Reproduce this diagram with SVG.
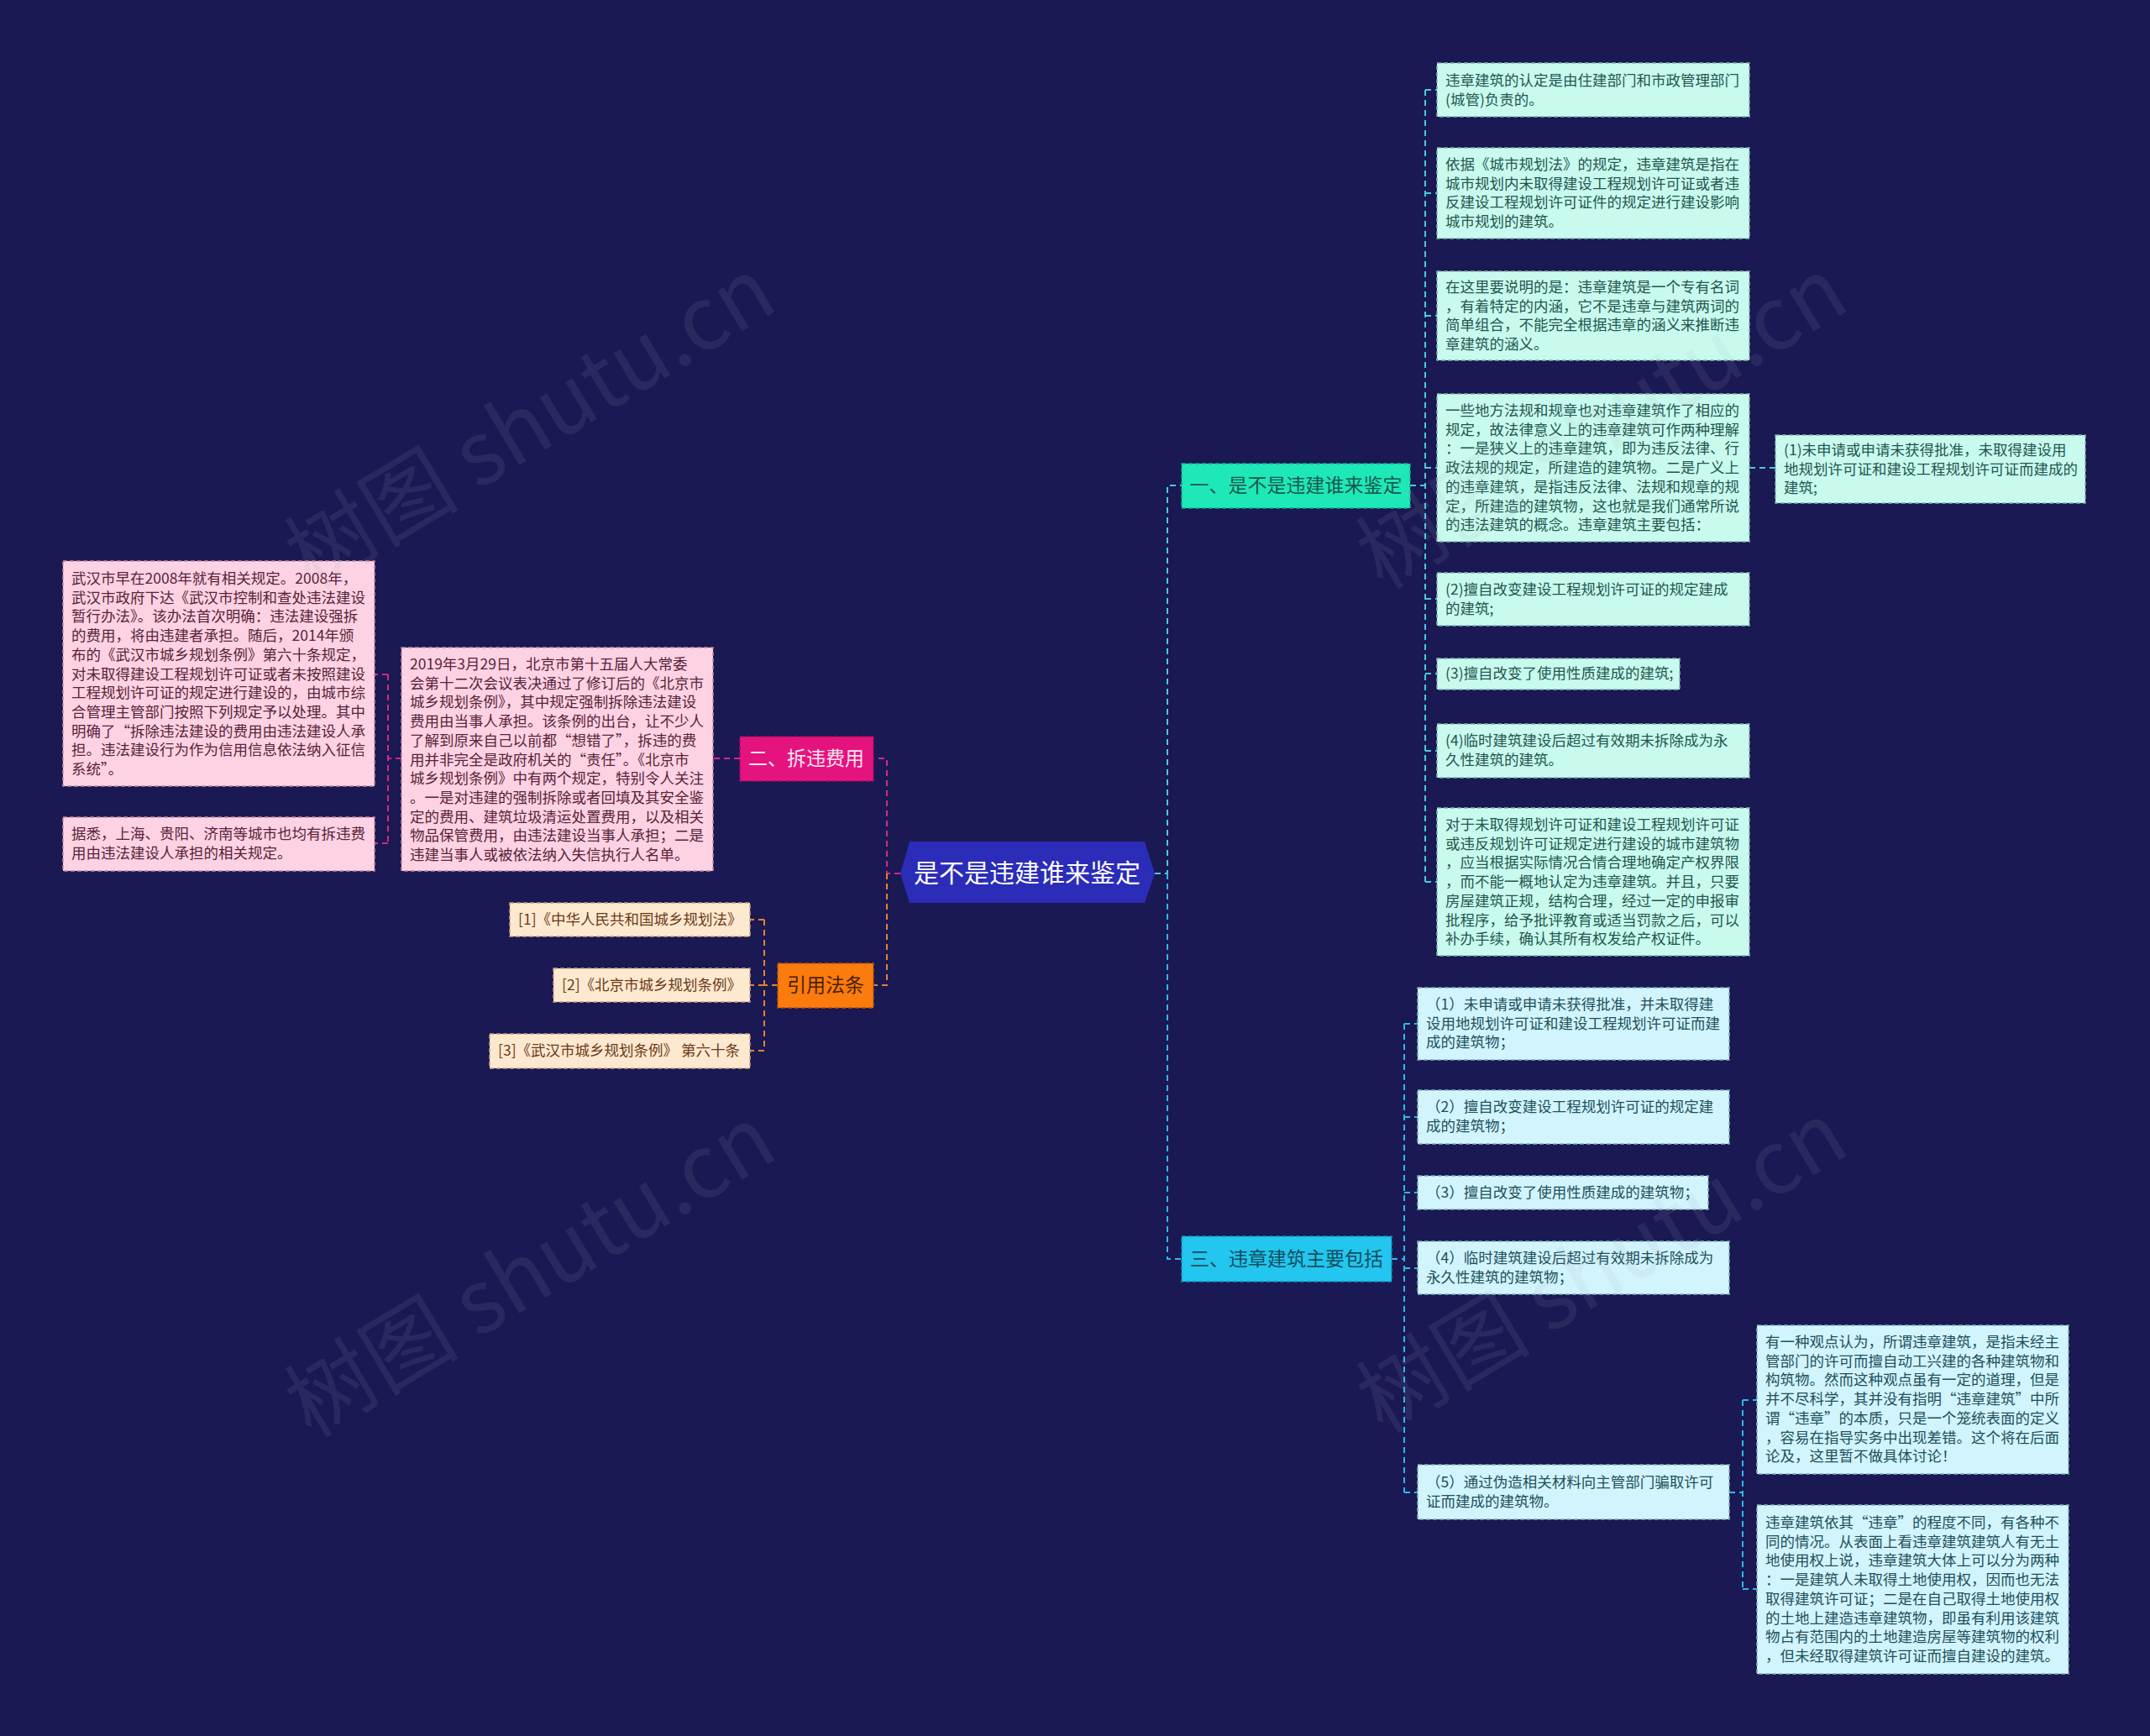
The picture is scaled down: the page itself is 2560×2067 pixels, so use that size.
<svg xmlns="http://www.w3.org/2000/svg" width="2560" height="2067" viewBox="0 0 2560 2067">
<style>
text{font-family:"Noto Sans CJK SC","Noto Sans",sans-serif;}
.t{font-size:17.5px;}
.mint rect{fill:#c8fbee;stroke:#7fb3a8;stroke-width:1.5;stroke-dasharray:5 3;}
.mint text{fill:#24564e;}
.cyan rect{fill:#d2f4fc;stroke:#7fb0bd;stroke-width:1.5;stroke-dasharray:5 3;}
.cyan text{fill:#21505c;}
.pink rect{fill:#fdd2e3;stroke:#c08aa0;stroke-width:1.5;stroke-dasharray:5 3;}
.pink text{fill:#5a2338;}
.peach rect{fill:#fde8d0;stroke:#c7a27d;stroke-width:1.5;stroke-dasharray:5 3;}
.peach text{fill:#6b3b17;}
.br{font-size:23px;text-anchor:middle;}
.c1{stroke:#45cdd8;}
.c3{stroke:#2fb7e8;}
.cp{stroke:#d8287f;}
.co{stroke:#e8822a;}
#connectors path{fill:none;stroke-width:2;stroke-dasharray:7 5;}
.wm{font-size:104px;fill:#a8adbd;opacity:0.11;}
</style>
<rect width="2560" height="2067" fill="#1a1953"/>

<g id="connectors">
  <path class="c1" d="M1375 1040H1390V578H1407"/>
  <path class="c3" d="M1390 1040V1499H1407"/>
  <path class="cp" d="M1072 1040H1056V903H1040"/>
  <path class="co" d="M1056 1040V1173H1040"/>
  <path class="c1" d="M1679 578H1697M1697 107V1050M1697 107H1711M1697 230H1711M1697 376H1711M1697 557H1711M1697 713H1711M1697 802H1711M1697 894H1711M1697 1050H1711M2083 557H2114"/>
  <path class="c3" d="M1657 1499H1672M1672 1219V1777M1672 1219H1688M1672 1330H1688M1672 1420H1688M1672 1510H1688M1672 1777H1688M2059 1777H2075M2075 1667V1892M2075 1667H2092M2075 1892H2092"/>
  <path class="cp" d="M881 903H849M478 903H462M462 803V1004M462 803H446M462 1004H446"/>
  <path class="co" d="M926 1173H910M910 1095V1251M910 1095H893M910 1173H893M910 1251H893"/>
</g>

<g id="root">
  <polygon points="1072,1040 1083,1002 1363,1002 1375,1040 1363,1075 1083,1075" fill="#2b2cb8"/>
  <text x="1223" y="1050" font-size="30" fill="#ffffff" text-anchor="middle">是不是违建谁来鉴定</text>
</g>

<g id="branch1">
  <rect x="1407" y="552" width="272" height="53" fill="#1fe8b8" stroke="#15a888" stroke-width="1.5" stroke-dasharray="5 3"/>
  <text class="br" x="1543" y="586" fill="#17584a">一、是不是违建谁来鉴定</text>
</g>
<g id="branch3">
  <rect x="1407" y="1472" width="250" height="54" fill="#22c6ee" stroke="#1590b8" stroke-width="1.5" stroke-dasharray="5 3"/>
  <text class="br" x="1532" y="1507" fill="#134e5e">三、违章建筑主要包括</text>
</g>
<g id="branch2">
  <rect x="881" y="877" width="159" height="53" fill="#e5137e" stroke="#a80c5c" stroke-width="1.5" stroke-dasharray="5 3"/>
  <text class="br" x="960" y="911" fill="#fde6f0">二、拆违费用</text>
</g>
<g id="branch4">
  <rect x="926" y="1147" width="114" height="53" fill="#fb7b0c" stroke="#b85508" stroke-width="1.5" stroke-dasharray="5 3"/>
  <text class="br" x="983" y="1181" fill="#4a1f00">引用法条</text>
</g>

<g id="b1-1" class="mint">
  <rect x="1711" y="75" width="372" height="64"/>
  <text class="t" x="1721" y="102">违章建筑的认定是由住建部门和市政管理部门<tspan x="1721" dy="22.7">(城管)负责的。</tspan></text>
</g>
<g id="b1-2" class="mint">
  <rect x="1711" y="176" width="372" height="108"/>
  <text class="t" x="1721" y="202">依据《城市规划法》的规定，违章建筑是指在<tspan x="1721" dy="22.7">城市规划内未取得建设工程规划许可证或者违</tspan><tspan x="1721" dy="22.7">反建设工程规划许可证件的规定进行建设影响</tspan><tspan x="1721" dy="22.7">城市规划的建筑。</tspan></text>
</g>
<g id="b1-3" class="mint">
  <rect x="1711" y="323" width="372" height="106"/>
  <text class="t" x="1721" y="348">在这里要说明的是：违章建筑是一个专有名词<tspan x="1721" dy="22.7">，有着特定的内涵，它不是违章与建筑两词的</tspan><tspan x="1721" dy="22.7">简单组合，不能完全根据违章的涵义来推断违</tspan><tspan x="1721" dy="22.7">章建筑的涵义。</tspan></text>
</g>
<g id="b1-4" class="mint">
  <rect x="1711" y="469" width="372" height="176"/>
  <text class="t" x="1721" y="495">一些地方法规和规章也对违章建筑作了相应的<tspan x="1721" dy="22.7">规定，故法律意义上的违章建筑可作两种理解</tspan><tspan x="1721" dy="22.7">：一是狭义上的违章建筑，即为违反法律、行</tspan><tspan x="1721" dy="22.7">政法规的规定，所建造的建筑物。二是广义上</tspan><tspan x="1721" dy="22.7">的违章建筑，是指违反法律、法规和规章的规</tspan><tspan x="1721" dy="22.7">定，所建造的建筑物，这也就是我们通常所说</tspan><tspan x="1721" dy="22.7">的违法建筑的概念。违章建筑主要包括：</tspan></text>
</g>
<g id="b1-4-1" class="mint">
  <rect x="2114" y="518" width="369" height="81"/>
  <text class="t" x="2124" y="542">(1)未申请或申请未获得批准，未取得建设用<tspan x="2124" dy="22.7">地规划许可证和建设工程规划许可证而建成的</tspan><tspan x="2124" dy="22.7">建筑;</tspan></text>
</g>
<g id="b1-5" class="mint">
  <rect x="1711" y="682" width="372" height="63"/>
  <text class="t" x="1721" y="708">(2)擅自改变建设工程规划许可证的规定建成<tspan x="1721" dy="22.7">的建筑;</tspan></text>
</g>
<g id="b1-6" class="mint">
  <rect x="1711" y="784" width="289" height="37"/>
  <text class="t" x="1721" y="808">(3)擅自改变了使用性质建成的建筑;</text>
</g>
<g id="b1-7" class="mint">
  <rect x="1711" y="862" width="372" height="64"/>
  <text class="t" x="1721" y="888">(4)临时建筑建设后超过有效期未拆除成为永<tspan x="1721" dy="22.7">久性建筑的建筑。</tspan></text>
</g>
<g id="b1-8" class="mint">
  <rect x="1711" y="962" width="372" height="176"/>
  <text class="t" x="1721" y="988">对于未取得规划许可证和建设工程规划许可证<tspan x="1721" dy="22.7">或违反规划许可证规定进行建设的城市建筑物</tspan><tspan x="1721" dy="22.7">，应当根据实际情况合情合理地确定产权界限</tspan><tspan x="1721" dy="22.7">，而不能一概地认定为违章建筑。并且，只要</tspan><tspan x="1721" dy="22.7">房屋建筑正规，结构合理，经过一定的申报审</tspan><tspan x="1721" dy="22.7">批程序，给予批评教育或适当罚款之后，可以</tspan><tspan x="1721" dy="22.7">补办手续，确认其所有权发给产权证件。</tspan></text>
</g>

<g id="b3-1" class="cyan">
  <rect x="1688" y="1176" width="371" height="86"/>
  <text class="t" x="1698" y="1202">（1）未申请或申请未获得批准，并未取得建<tspan x="1698" dy="22.7">设用地规划许可证和建设工程规划许可证而建</tspan><tspan x="1698" dy="22.7">成的建筑物；</tspan></text>
</g>
<g id="b3-2" class="cyan">
  <rect x="1688" y="1298" width="371" height="64"/>
  <text class="t" x="1698" y="1324">（2）擅自改变建设工程规划许可证的规定建<tspan x="1698" dy="22.7">成的建筑物；</tspan></text>
</g>
<g id="b3-3" class="cyan">
  <rect x="1688" y="1400" width="346" height="40"/>
  <text class="t" x="1698" y="1426">（3）擅自改变了使用性质建成的建筑物；</text>
</g>
<g id="b3-4" class="cyan">
  <rect x="1688" y="1478" width="371" height="63"/>
  <text class="t" x="1698" y="1504">（4）临时建筑建设后超过有效期未拆除成为<tspan x="1698" dy="22.7">永久性建筑的建筑物；</tspan></text>
</g>
<g id="b3-5" class="cyan">
  <rect x="1688" y="1744" width="371" height="65"/>
  <text class="t" x="1698" y="1771">（5）通过伪造相关材料向主管部门骗取许可<tspan x="1698" dy="22.7">证而建成的建筑物。</tspan></text>
</g>
<g id="b3-5-1" class="cyan">
  <rect x="2092" y="1578" width="371" height="177"/>
  <text class="t" x="2102" y="1604">有一种观点认为，所谓违章建筑，是指未经主<tspan x="2102" dy="22.7">管部门的许可而擅自动工兴建的各种建筑物和</tspan><tspan x="2102" dy="22.7">构筑物。然而这种观点虽有一定的道理，但是</tspan><tspan x="2102" dy="22.7">并不尽科学，其并没有指明“违章建筑”中所</tspan><tspan x="2102" dy="22.7">谓“违章”的本质，只是一个笼统表面的定义</tspan><tspan x="2102" dy="22.7">，容易在指导实务中出现差错。这个将在后面</tspan><tspan x="2102" dy="22.7">论及，这里暂不做具体讨论！</tspan></text>
</g>
<g id="b3-5-2" class="cyan">
  <rect x="2092" y="1792" width="371" height="201"/>
  <text class="t" x="2102" y="1819">违章建筑依其“违章”的程度不同，有各种不<tspan x="2102" dy="22.7">同的情况。从表面上看违章建筑建筑人有无土</tspan><tspan x="2102" dy="22.7">地使用权上说，违章建筑大体上可以分为两种</tspan><tspan x="2102" dy="22.7">：一是建筑人未取得土地使用权，因而也无法</tspan><tspan x="2102" dy="22.7">取得建筑许可证；二是在自己取得土地使用权</tspan><tspan x="2102" dy="22.7">的土地上建造违章建筑物，即虽有利用该建筑</tspan><tspan x="2102" dy="22.7">物占有范围内的土地建造房屋等建筑物的权利</tspan><tspan x="2102" dy="22.7">，但未经取得建筑许可证而擅自建设的建筑。</tspan></text>
</g>

<g id="b2-1" class="pink">
  <rect x="478" y="771" width="371" height="266"/>
  <text class="t" x="488" y="797">2019年3月29日，北京市第十五届人大常委<tspan x="488" dy="22.7">会第十二次会议表决通过了修订后的《北京市</tspan><tspan x="488" dy="22.7">城乡规划条例》，其中规定强制拆除违法建设</tspan><tspan x="488" dy="22.7">费用由当事人承担。该条例的出台，让不少人</tspan><tspan x="488" dy="22.7">了解到原来自己以前都“想错了”，拆违的费</tspan><tspan x="488" dy="22.7">用并非完全是政府机关的“责任”。《北京市</tspan><tspan x="488" dy="22.7">城乡规划条例》中有两个规定，特别令人关注</tspan><tspan x="488" dy="22.7">。一是对违建的强制拆除或者回填及其安全鉴</tspan><tspan x="488" dy="22.7">定的费用、建筑垃圾清运处置费用，以及相关</tspan><tspan x="488" dy="22.7">物品保管费用，由违法建设当事人承担；二是</tspan><tspan x="488" dy="22.7">违建当事人或被依法纳入失信执行人名单。</tspan></text>
</g>
<g id="b2-1-1" class="pink">
  <rect x="75" y="668" width="371" height="268"/>
  <text class="t" x="85" y="695">武汉市早在2008年就有相关规定。2008年，<tspan x="85" dy="22.7">武汉市政府下达《武汉市控制和查处违法建设</tspan><tspan x="85" dy="22.7">暂行办法》。该办法首次明确：违法建设强拆</tspan><tspan x="85" dy="22.7">的费用，将由违建者承担。随后，2014年颁</tspan><tspan x="85" dy="22.7">布的《武汉市城乡规划条例》第六十条规定，</tspan><tspan x="85" dy="22.7">对未取得建设工程规划许可证或者未按照建设</tspan><tspan x="85" dy="22.7">工程规划许可证的规定进行建设的，由城市综</tspan><tspan x="85" dy="22.7">合管理主管部门按照下列规定予以处理。其中</tspan><tspan x="85" dy="22.7">明确了“拆除违法建设的费用由违法建设人承</tspan><tspan x="85" dy="22.7">担。违法建设行为作为信用信息依法纳入征信</tspan><tspan x="85" dy="22.7">系统”。</tspan></text>
</g>
<g id="b2-1-2" class="pink">
  <rect x="75" y="973" width="371" height="64"/>
  <text class="t" x="85" y="999">据悉，上海、贵阳、济南等城市也均有拆违费<tspan x="85" dy="22.7">用由违法建设人承担的相关规定。</tspan></text>
</g>

<g id="ref-1" class="peach">
  <rect x="607" y="1075" width="286" height="40"/>
  <text class="t" x="617" y="1101">[1]《中华人民共和国城乡规划法》</text>
</g>
<g id="ref-2" class="peach">
  <rect x="659" y="1153" width="234" height="40"/>
  <text class="t" x="669" y="1179">[2]《北京市城乡规划条例》</text>
</g>
<g id="ref-3" class="peach">
  <rect x="583" y="1231" width="310" height="41"/>
  <text class="t" x="593" y="1257">[3]《武汉市城乡规划条例》 第六十条</text>
</g>

<g id="watermarks">
  <text class="wm" text-anchor="middle" transform="translate(650,535) rotate(-31)">树图 shutu.cn</text>
  <text class="wm" text-anchor="middle" transform="translate(1926,535) rotate(-31)">树图 shutu.cn</text>
  <text class="wm" text-anchor="middle" transform="translate(650,1545) rotate(-31)">树图 shutu.cn</text>
  <text class="wm" text-anchor="middle" transform="translate(1926,1540) rotate(-31)">树图 shutu.cn</text>
</g>
</svg>
